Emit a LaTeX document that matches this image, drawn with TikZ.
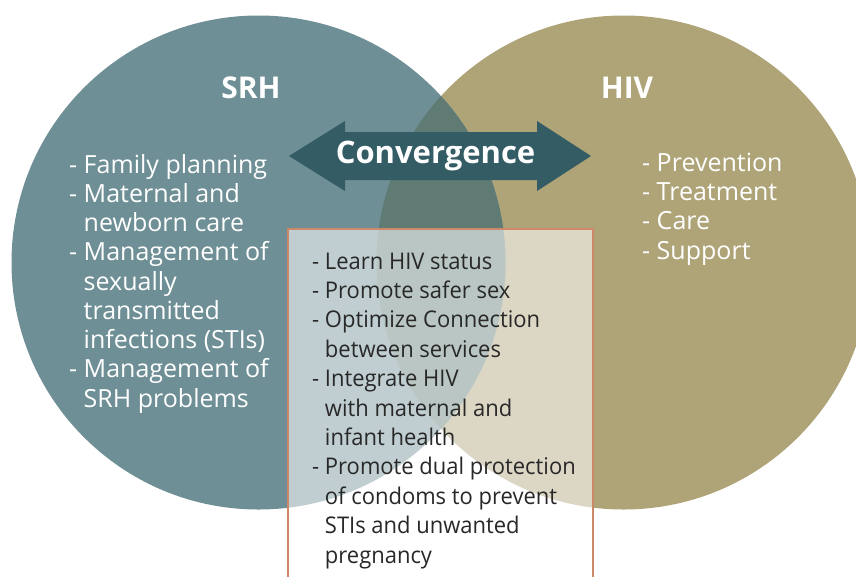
\documentclass[tikz,border=0pt]{standalone}
\usepackage{fontspec}
\setmainfont{Open Sans}
\newfontfamily\boxfont[FakeStretch=0.955]{Open Sans}
\definecolor{srh}{RGB}{110,143,149}
\definecolor{hiv}{RGB}{175,164,120}
\definecolor{ovl}{RGB}{95,123,116}
\definecolor{arr}{RGB}{51,92,100}
\definecolor{boxline}{RGB}{205,135,105}
\definecolor{dtext}{RGB}{40,40,40}
\newcommand{\ind}{\hphantom{- }}
\begin{document}
\begin{tikzpicture}[x=1pt,y=-1pt,
  wl/.style={anchor=base west, inner sep=0pt, text=white, font=\fontsize{25}{29}\selectfont},
  bl/.style={anchor=base west, inner sep=0pt, text=dtext, font=\boxfont\fontsize{23}{28}\selectfont},
  title/.style={anchor=base, inner sep=0pt, text=white, font=\bfseries\fontsize{30}{36}\selectfont}]
\useasboundingbox (0,0) rectangle (856,576);
% circles
\fill[hiv] (623.5,262.5) circle (247pt);
\fill[srh] (258.5,262.5) circle (247pt);
\begin{scope}
  \clip (258.5,262.5) circle (247pt);
  \fill[ovl] (623.5,262.5) circle (247pt);
\end{scope}
% double arrow
\fill[arr] (289,156) -- (345,121) -- (345,132) -- (537,132) -- (537,121) -- (591,156)
  -- (537,191) -- (537,180) -- (345,180) -- (345,191) -- cycle;
\node[title, font=\bfseries\fontsize{31}{36}\selectfont] (conv) at (435.5,163) {Convergence};
% box
\filldraw[fill=white, fill opacity=0.57, draw=boxline, line width=1.2pt] (288,229) rectangle (593,600);
% titles
\node[title] (srh) at (251,98.5) {SRH};
\node[title] (hivt) at (627,98.5) {HIV};
% left list
\node[wl] (a1) at (69,173) {- Family planning};
\node[wl] (a2) at (69,202.25) {- Maternal and};
\node[wl] (a3) at (69,231.5) {\ind newborn care};
\node[wl] (a4) at (69,260.75) {- Management of};
\node[wl] (a5) at (69,290) {\ind sexually};
\node[wl] (a6) at (69,319.25) {\ind transmitted};
\node[wl] (a7) at (69,348.5) {\ind infections (STIs)};
\node[wl] (a8) at (69,377.75) {- Management of};
\node[wl] (a9) at (69,407) {\ind SRH problems};
% right list
\node[wl] (b1) at (642,171) {- Prevention};
\node[wl] (b2) at (642,200.3) {- Treatment};
\node[wl] (b3) at (642,229.6) {- Care};
\node[wl] (b4) at (642,259) {- Support};
% box list
\node[bl] (c1) at (312,269) {- Learn HIV status};
\node[bl] (c2) at (312,298.4) {- Promote safer sex};
\node[bl] (c3) at (312,327.8) {- Optimize Connection};
\node[bl] (c4) at (312,357.2) {\ind between services};
\node[bl] (c5) at (312,386.6) {- Integrate HIV};
\node[bl] (c6) at (312,416) {\ind with maternal and};
\node[bl] (c7) at (312,445.4) {\ind infant health};
\node[bl] (c8) at (312,474.8) {- Promote dual protection};
\node[bl] (c9) at (312,504.2) {\ind of condoms to prevent};
\node[bl] (c10) at (312,533.6) {\ind STIs and unwanted};
\node[bl] (c11) at (312,563) {\ind pregnancy};
\end{tikzpicture}
\end{document}
